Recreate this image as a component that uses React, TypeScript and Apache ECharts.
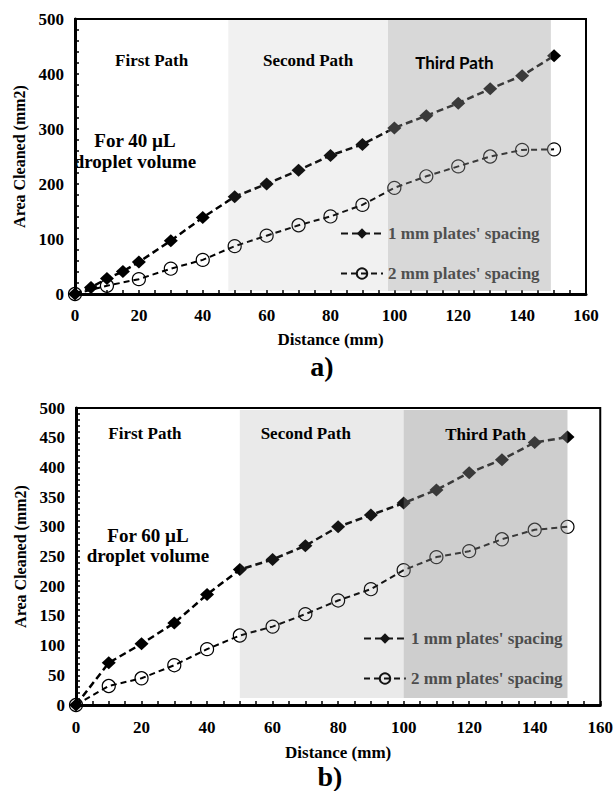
import React, { useEffect, useRef } from "react";
import * as echarts from "echarts";

// ---- data ----
const SERIES_NAMES = ["1 mm plates' spacing", "2 mm plates' spacing"];

// chart a) 40 µL
const DIST_A1 = [0, 5, 10, 15, 20, 30, 40, 50, 60, 70, 80, 90, 100, 110, 120, 130, 140, 150];
const AREA_A1 = [0, 12, 28, 41, 58, 97, 139, 177, 200, 225, 252, 272, 302, 324, 347, 373, 397, 433];
const DIST_A2 = [0, 10, 20, 30, 40, 50, 60, 70, 80, 90, 100, 110, 120, 130, 140, 150];
const AREA_A2 = [0, 15, 27, 46, 62, 87, 106, 125, 141, 162, 193, 214, 232, 250, 262, 263];

// chart b) 60 µL
const DIST_B = [0, 10, 20, 30, 40, 50, 60, 70, 80, 90, 100, 110, 120, 130, 140, 150];
const AREA_B1 = [0, 71, 103, 138, 186, 228, 245, 268, 300, 320, 340, 362, 391, 413, 442, 451];
const AREA_B2 = [0, 32, 45, 67, 94, 117, 132, 153, 176, 195, 227, 249, 259, 279, 295, 300];

const PATH_NAMES = ["First Path", "Second Path", "Third Path"];
const PATH_START_A = [0, 48, 98];
const PATH_END_A = [48, 98, 149];
const PATH_START_B = [0, 50, 100];
const PATH_END_B = [50, 100, 150];

const NOTE_A = "For 40 µL\ndroplet volume";
const NOTE_B = "For 60 µL\ndroplet volume";
const X_NAME = "Distance (mm)";
const Y_NAME = "Area Cleaned (mm2)";

// ---- style ----
const SERIF = "Liberation Serif, Times New Roman, serif";
const SANS = "Lato, Liberation Sans, sans-serif";

const zip = (xs: number[], ys: number[]) => xs.map((x, i) => [x, ys[i]]);

function xAxisCfg(gridIndex: number, nameGap: number, margin: number) {
  return {
    type: "value",
    gridIndex,
    min: 0,
    max: 160,
    interval: 20,
    name: X_NAME,
    nameLocation: "middle",
    nameGap,
    nameTextStyle: { fontFamily: SERIF, fontWeight: "bold", fontSize: 17, color: "#000" },
    axisLine: { show: true, onZero: false, lineStyle: { color: "#000", width: 3 } },
    axisTick: { show: true, inside: true, length: 4, lineStyle: { color: "#000", width: 1.5 } },
    minorTick: { show: true, splitNumber: 4, length: 4, lineStyle: { color: "#000", width: 1.5 } },
    axisLabel: { margin, color: "#000", fontSize: 17, fontWeight: "bold", fontFamily: SERIF },
    splitLine: { show: false },
  };
}

function yAxisCfg(gridIndex: number, interval: number, nameGap: number) {
  return {
    type: "value",
    gridIndex,
    min: 0,
    max: 500,
    interval,
    name: Y_NAME,
    nameLocation: "middle",
    nameGap,
    nameTextStyle: { fontFamily: SERIF, fontWeight: "bold", fontSize: 16, color: "#000" },
    axisLine: { show: true, onZero: false, lineStyle: { color: "#000", width: 3 } },
    axisTick: { show: true, inside: true, length: 4, lineStyle: { color: "#000", width: 1.5 } },
    minorTick: { show: true, splitNumber: 5, length: 4, lineStyle: { color: "#000", width: 1.5 } },
    axisLabel: { margin: 11, color: "#000", fontSize: 17, fontWeight: "bold", fontFamily: SERIF },
    splitLine: { show: false },
  };
}

function lineSeries(idx: number, name: string, data: number[][], kind: 0 | 1) {
  const base: any = {
    type: "line",
    name,
    xAxisIndex: idx,
    yAxisIndex: idx,
    data,
    z: 3,
    showSymbol: true,
  };
  if (kind === 0) {
    return {
      ...base,
      symbol: "diamond",
      symbolSize: [14, 13],
      lineStyle: { color: "#000", width: 2.5, type: [7, 4] },
      itemStyle: { color: "#000" },
    };
  }
  return {
    ...base,
    symbol: "circle",
    symbolSize: 13,
    lineStyle: { color: "#000", width: 2, type: [6, 4] },
    itemStyle: { color: "rgba(0,0,0,0)", borderColor: "#000", borderWidth: 1.2 },
  };
}

function regionSeries(
  idx: number,
  starts: number[],
  ends: number[],
  fills: string[],
  dx: number[],
  dy: number[],
  fonts: string[],
  padTop: number,
  padBottom: number
) {
  return {
    type: "custom",
    xAxisIndex: idx,
    yAxisIndex: idx,
    z: 10,
    silent: true,
    data: starts.map((s, i) => [s, ends[i]]),
    renderItem: (params: any, api: any) => {
      const i = params.dataIndex;
      const cs = params.coordSys;
      const x0 = api.coord([api.value(0), 0])[0];
      const x1 = api.coord([api.value(1), 0])[0];
      return {
        type: "group",
        children: [
          {
            type: "rect",
            shape: { x: x0, y: cs.y + padTop, width: x1 - x0, height: cs.height - padTop - padBottom },
            style: { fill: fills[i] },
          },
          {
            type: "text",
            style: {
              text: PATH_NAMES[i],
              x: (x0 + x1) / 2 + dx[i],
              y: cs.y + dy[i],
              align: "center",
              verticalAlign: "middle",
              fontSize: 17,
              fontWeight: "bold",
              fontFamily: fonts[i],
              fill: "#000",
            },
          },
        ],
      };
    },
  };
}

function legendCfg(left: number, top: number) {
  return {
    orient: "vertical",
    left,
    top,
    padding: 0,
    itemWidth: 42,
    itemHeight: 13,
    itemGap: 23,
    data: SERIES_NAMES,
    textStyle: { fontFamily: SERIF, fontWeight: "bold", fontSize: 17, color: "#222" },
  };
}

function noteText(x: number, y: number, text: string, size: number, lh: number) {
  return {
    type: "text",
    x,
    y,
    z: 100,
    style: {
      text,
      align: "center",
      verticalAlign: "middle",
      fontFamily: SERIF,
      fontWeight: "bold",
      fontSize: size,
      lineHeight: lh,
      fill: "#000",
    },
  };
}

export default function App() {
  const ref = useRef<HTMLDivElement>(null);

  useEffect(() => {
    if (!ref.current) return;
    const chart = echarts.init(ref.current, undefined, { renderer: "svg" });
    const option: any = {
      animation: false,
      backgroundColor: "#fff",
      grid: [
        { left: 75, top: 19, width: 511, height: 275, show: true, borderColor: "#000", borderWidth: 2 },
        { left: 76, top: 408, width: 527, height: 297, show: true, borderColor: "#000", borderWidth: 2 },
      ],
      xAxis: [xAxisCfg(0, 37, 13), xAxisCfg(1, 39, 14)],
      yAxis: [yAxisCfg(0, 100, 45), yAxisCfg(1, 50, 47)],
      legend: [legendCfg(340, 225), legendCfg(363, 630)],
      series: [
        lineSeries(0, SERIES_NAMES[0], zip(DIST_A1, AREA_A1), 0),
        lineSeries(0, SERIES_NAMES[1], zip(DIST_A2, AREA_A2), 1),
        lineSeries(1, SERIES_NAMES[0], zip(DIST_B, AREA_B1), 0),
        lineSeries(1, SERIES_NAMES[1], zip(DIST_B, AREA_B2), 1),
        regionSeries(
          0,
          PATH_START_A,
          PATH_END_A,
          ["rgba(0,0,0,0)", "rgba(150,150,150,0.13)", "rgba(152,152,152,0.38)"],
          [0, 0, -15],
          [41, 41, 43],
          [SERIF, SERIF, SANS],
          1,
          3
        ),
        regionSeries(
          1,
          PATH_START_B,
          PATH_END_B,
          ["rgba(0,0,0,0)", "rgba(127,127,127,0.16)", "rgba(138,138,138,0.42)"],
          [-13, -16, 0],
          [25, 25, 26],
          [SERIF, SERIF, SERIF],
          2,
          7
        ),
      ],
      graphic: [
        noteText(135, 151, NOTE_A, 19, 21),
        noteText(148, 545, NOTE_B, 19, 20),
        noteText(322, 366, "a)", 28, 28),
        noteText(330, 776, "b)", 28, 26),
      ],
    };
    chart.setOption(option);
    return () => chart.dispose();
  }, []);

  return (
    <div
      ref={ref}
      style={{ position: "absolute", left: 0, top: 0, width: 616, height: 791, background: "#fff" }}
    />
  );
}
